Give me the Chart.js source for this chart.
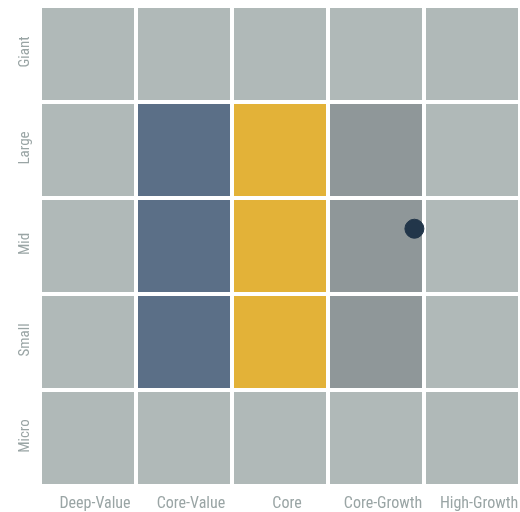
<!DOCTYPE html>
<html>
<head>
<meta charset="utf-8">
<script src="https://cdn.jsdelivr.net/npm/chart.js@4"></script>
<style>
  html, body { margin: 0; padding: 0; background: #ffffff; }
  #wrap { width: 520px; height: 512px; }
</style>
</head>
<body>
<div id="wrap"><canvas id="myChart"></canvas></div>
<script>
var styles = ["Deep-Value", "Core-Value", "Core", "Core-Growth", "High-Growth"];
var sizes = ["Micro", "Small", "Mid", "Large", "Giant"];

// cell shade per row (bottom to top), one letter per style column
// n = neutral, v = value weight, c = core weight, g = growth weight
var rowMicro = ["n", "n", "n", "n", "n"];
var rowSmall = ["n", "v", "c", "g", "n"];
var rowMid   = ["n", "v", "c", "g", "n"];
var rowLarge = ["n", "v", "c", "g", "n"];
var rowGiant = ["n", "n", "n", "n", "n"];

// fund position (style score, size score)
var fundX = [3.9];
var fundY = [2.68];

var shade = { n: "#b0b9b8", v: "#5b6f87", c: "#e3b238", g: "#8f9799" };
var grid = [rowMicro, rowSmall, rowMid, rowLarge, rowGiant];

var cellsPlugin = {
    id: "cells",
    beforeDatasetsDraw: function (chart) {
        var ctx = chart.ctx;
        var xs = chart.scales.x;
        var ys = chart.scales.y;
        var gap = 2;
        ctx.save();
        grid.forEach(function (row, r) {
            row.forEach(function (k, c) {
                var x0 = xs.getPixelForValue(c) + gap;
                var x1 = xs.getPixelForValue(c + 1) - gap;
                var y0 = ys.getPixelForValue(r + 1) + gap;
                var y1 = ys.getPixelForValue(r) - gap;
                ctx.fillStyle = shade[k];
                ctx.fillRect(x0, y0, x1 - x0, y1 - y0);
            });
        });
        ctx.restore();
    }
};

var fontFamily = "'Roboto Condensed', 'Liberation Sans Narrow', Roboto, sans-serif";

var ctx = document.getElementById('myChart').getContext('2d');
var chart = new Chart(ctx, {
    type: 'scatter',
    data: {
        datasets: [{
            data: fundX.map(function (v, i) { return { x: v, y: fundY[i] }; }),
            backgroundColor: "#22364a",
            borderColor: "#22364a",
            pointRadius: 9.5,
            pointHoverRadius: 9.5
        }]
    },
    options: {
        responsive: true,
        maintainAspectRatio: false,
        animation: false,
        layout: { autoPadding: false, padding: { top: 6, right: 0, left: 0, bottom: 0 } },
        plugins: {
            legend: { display: false },
            tooltip: { enabled: false }
        },
        scales: {
            x: {
                type: 'linear',
                min: 0,
                max: 5,
                afterBuildTicks: function (axis) {
                    axis.ticks = styles.map(function (s, i) { return { value: i + 0.5 }; });
                },
                afterFit: function (axis) {
                    axis.height = 26;
                    axis.paddingLeft = 0;
                    axis.paddingRight = 0;
                },
                ticks: {
                    color: "#9aa5a5",
                    font: { family: fontFamily, size: 16 },
                    maxRotation: 0,
                    padding: 8,
                    labelOffset: 7,
                    callback: function (v) { return styles[Math.floor(v)]; }
                },
                grid: { display: false, drawTicks: false },
                border: { display: false }
            },
            y: {
                type: 'linear',
                min: 0,
                max: 5,
                afterFit: function (axis) {
                    axis.width = 40;
                    axis.paddingTop = 0;
                    axis.paddingBottom = 0;
                },
                afterBuildTicks: function (axis) {
                    axis.ticks = sizes.map(function (s, i) { return { value: i + 0.5 }; });
                },
                ticks: {
                    color: "#9aa5a5",
                    font: { family: fontFamily, size: 15 },
                    minRotation: 90,
                    maxRotation: 90,
                    crossAlign: 'center',
                    padding: -2,
                    labelOffset: -2,
                    callback: function (v) { return sizes[Math.floor(v)]; }
                },
                grid: { display: false, drawTicks: false },
                border: { display: false }
            }
        }
    },
    plugins: [cellsPlugin]
});
</script>
</body>
</html>
